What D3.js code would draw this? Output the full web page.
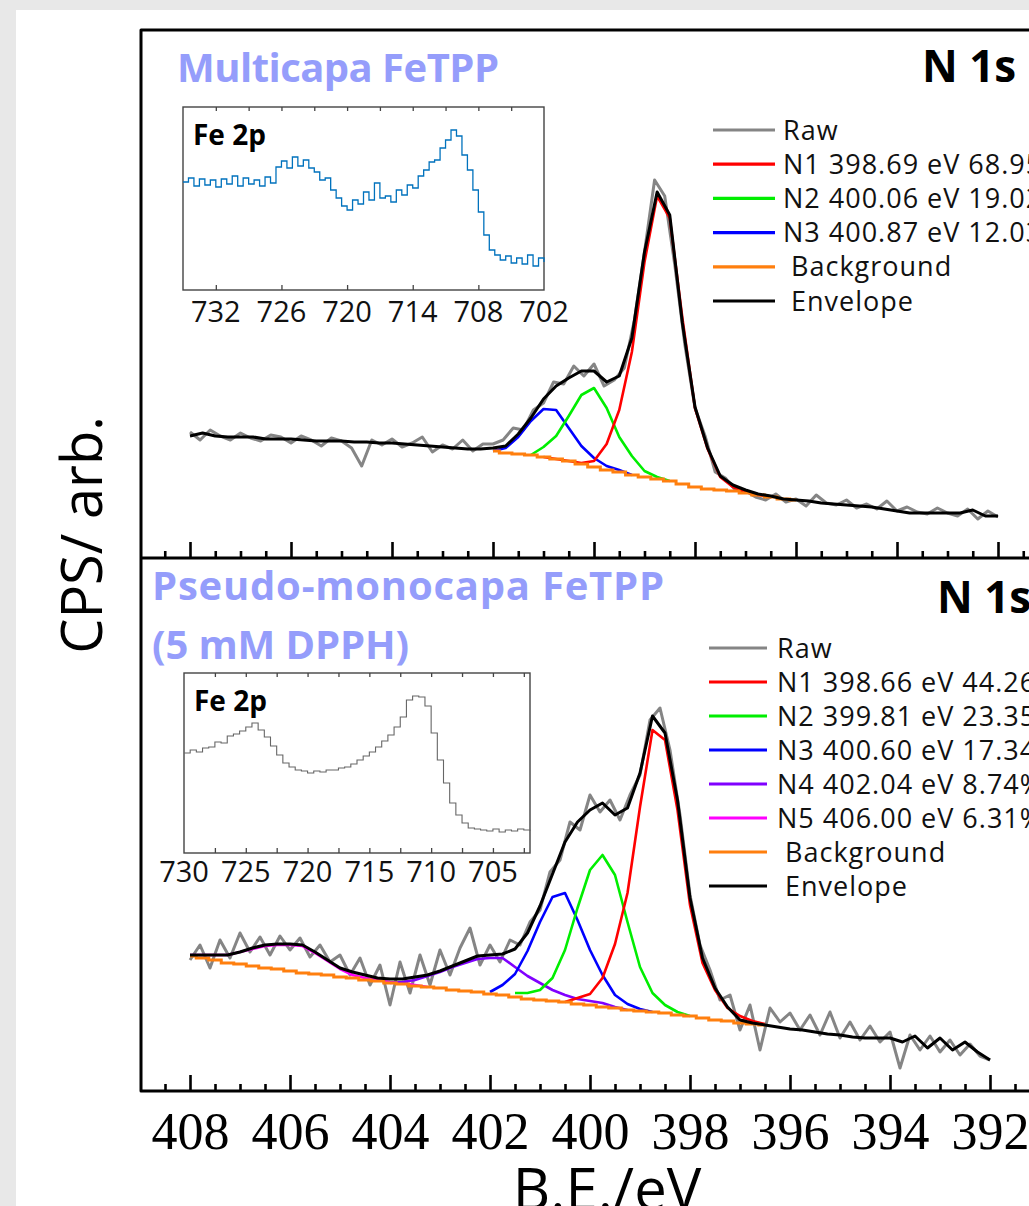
<!DOCTYPE html>
<html>
<head>
<meta charset="utf-8">
<script src="https://cdn.jsdelivr.net/npm/d3@7"></script>
<style>
  body { margin: 0; background: #e8e8e8; }
  text { font-family: "Open Sans", "Lato", sans-serif; }
</style>
</head>
<body>
<div id="visContainer"></div>
<script>
// ---------------- data (arbitrary counts) ----------------
// main panels share the B.E. axis, 408 -> 392 eV
const majorTicks = [408, 406, 404, 402, 400, 398, 396, 394, 392];

// top panel: Multicapa FeTPP
// raw: every 0.2 eV from 408
const topRaw = [
  125, 117, 127, 121, 117, 124, 119, 116, 122, 120,
  114, 121, 117, 111, 119, 116, 109, 91, 117, 112,
  118, 110, 114, 120, 105, 112, 108, 117, 106, 113,
  113, 117, 129, 127, 147, 154, 175, 173, 191, 181,
  193, 171, 177, 189, 237, 305, 377, 361, 292, 212,
  149, 121, 85, 79, 67, 66, 60, 57, 63, 55,
  58, 51, 62, 54, 52, 57, 49, 53, 48, 56,
  46, 50, 45, 43, 49, 44, 41, 48, 38, 46,
  40
];
// fitted curves: every 0.25 eV from the given start energy
const topEnvelope = [
  121, 124, 121, 120, 120, 120, 118, 118, 118, 117, 116, 116, 116, 115, 115, 114,
  114, 113, 112, 111, 110, 109, 108, 108, 109, 111,
  123, 139, 158, 171, 179, 186, 186, 175, 181, 219, 305, 365, 342, 234, 150, 109,
  81, 72, 67, 63, 61, 58, 57, 56, 54, 53, 52, 51, 50, 48, 46, 44, 44, 44, 44, 44,
  47, 41, 41
];
const topBackground = [106, 104, 103, 102, 100, 98, 96, 93, 90, 87, 85, 82, 80, 78, 76, 73, 70, 68, 67, 66, 64, 62, 60, 58, 57];
const topN1 = [100, 98, 96, 94, 96, 113, 147, 205, 295, 361, 339, 239, 149, 108, 80, 70, 65, 62, 60];
const topN2 = [102, 110, 121, 141, 162, 169, 149, 120, 101, 86, 80, 76];
const topN3 = [106, 109, 120, 136, 148, 147, 129, 111, 99, 91, 87, 82];

// bottom panel: Pseudo-monocapa FeTPP (5 mM DPPH)
const botRaw = [
  130, 145, 122, 150, 132, 157, 138, 153, 135, 154,
  140, 152, 133, 145, 128, 135, 115, 132, 105, 125,
  85, 128, 97, 135, 105, 140, 115, 142, 162, 125,
  145, 128, 150, 145, 168, 180, 218, 230, 268, 260,
  295, 278, 290, 270, 295, 315, 370, 382, 340, 275,
  195, 145, 120, 90, 95, 60, 85, 40, 82, 68,
  77, 60, 75, 55, 78, 52, 68, 50, 64, 48,
  58, 22, 55, 40, 54, 38, 50, 35, 46, 34,
  30
];
const botEnvelope = [
  135, 135, 135, 135, 138, 142, 145, 146, 146, 145, 138, 130, 122, 118, 115, 112,
  111, 111, 113, 115, 119, 124, 129, 134, 135, 136,
  141, 157, 184, 216, 248, 268, 280, 287, 275, 282, 317, 374, 357, 290, 192, 132,
  102, 83, 70, 67, 65, 63, 61, 60, 58, 56, 55, 53, 52, 52, 52, 48, 54, 42, 52, 40,
  48, 38, 30
];
const botBackground = [
  134, 132, 130, 127, 126, 124, 122, 121, 119, 117, 116, 115, 113, 112, 110, 109,
  107, 106, 104, 103, 102, 100, 99, 98, 96, 95, 93, 91, 90, 89, 88, 86,
  85, 83, 82, 80, 79, 78, 77, 75, 74, 72, 70, 69, 67, 66, 65
];
const botN1 = [88, 92, 96, 112, 146, 197, 283, 360, 350, 280, 185, 127, 100, 82, 74, 69, 66];
const botN2 = [97, 97, 100, 112, 140, 182, 220, 235, 215, 168, 123, 97, 85, 78, 74];
const botN3 = [98, 105, 116, 139, 168, 193, 197, 170, 140, 115, 95, 86, 81, 78];
const botN4 = [107, 108, 110, 114, 118, 123, 127, 131, 132, 132, 123, 114, 107, 100, 95, 91, 89, 87, 83, 80];
const botN5 = [135, 135, 135, 135, 138, 141, 144, 145, 145, 144, 137, 129, 121, 115, 112, 110, 108, 107, 105, 103];

// Fe 2p insets, every 0.5 eV
const inset1Values = [
  108, 112, 104, 111, 105, 110, 103, 111, 106, 114, 104, 112, 106, 110, 104, 113, 107,
  123, 129, 122, 133, 124, 130, 122, 118, 110, 112, 100, 92, 84, 80, 90, 86, 98, 90,
  107, 92, 94, 88, 100, 95, 105, 102, 114, 120, 128, 130, 142, 150, 160, 154, 135, 120,
  100, 78, 55, 40, 35, 30, 34, 27, 32, 26, 35, 24, 32, 28
]; // from 735 eV
const inset1Labels = [732, 726, 720, 714, 708, 702];
const inset2Values = [
  100, 103, 101, 105, 106, 111, 110, 117, 119, 122, 126, 130, 123, 116, 107, 98, 90,
  86, 83, 82, 80, 82, 81, 83, 83, 85, 86, 89, 93, 97, 101, 106, 112, 118, 126, 136,
  153, 157, 156, 147, 120, 93, 70, 50, 38, 30, 25, 24, 23, 22, 24, 21, 23, 22, 24, 23, 22
]; // from 730 eV
const inset2Labels = [730, 725, 720, 715, 710, 705];

const legendTop = [
  { label: "Raw", color: "#858585" },
  { label: "N1 398.69 eV 68.95%", color: "#ff0000" },
  { label: "N2 400.06 eV 19.02%", color: "#00ee00" },
  { label: "N3 400.87 eV 12.03%", color: "#0000ff" },
  { label: " Background", color: "#ff7f0e" },
  { label: " Envelope", color: "#000000" },
];
const legendBot = [
  { label: "Raw", color: "#858585" },
  { label: "N1 398.66 eV 44.26%", color: "#ff0000" },
  { label: "N2 399.81 eV 23.35%", color: "#00ee00" },
  { label: "N3 400.60 eV 17.34%", color: "#0000ff" },
  { label: "N4 402.04 eV 8.74%", color: "#8000ff" },
  { label: "N5 406.00 eV 6.31%", color: "#ff00ff" },
  { label: " Background", color: "#ff7f0e" },
  { label: " Envelope", color: "#000000" },
];

// ---------------- drawing ----------------
const width = 1029;
const height = 1206;
const titleColor = "#959dfb";

const svg = d3
  .select("#visContainer")
  .append("svg")
  .attr("width", width)
  .attr("height", height);

svg.append("rect").attr("width", width).attr("height", height).attr("fill", "#e8e8e8");
svg.append("rect").attr("x", 16).attr("y", 10).attr("width", width).attr("height", height).attr("fill", "#fff");

// turn a value list into [energy, value] pairs
function pts(start, step, values) {
  return values.map((v, i) => [start - i * step, v]);
}

const minorTicks = d3.range(391.5, 408.51, 0.5).filter((t) => !majorTicks.includes(t));

function drawPanel(p) {
  const x = d3.scaleLinear().domain([408, 392]).range(p.xRange);
  const y = d3.scaleLinear().domain(p.yDomain).range(p.yRange);
  const line = d3.line().x((d) => x(d[0])).y((d) => y(d[1]));
  const g = svg.append("g");

  g.append("path")
    .datum(pts(408, 0.2, p.raw))
    .attr("d", line)
    .attr("fill", "none")
    .attr("stroke", "#858585")
    .attr("stroke-width", 3)
    .attr("stroke-linejoin", "round");

  p.comps.forEach((c) => {
    g.append("path")
      .datum(pts(c.start, 0.25, c.values))
      .attr("d", line)
      .attr("fill", "none")
      .attr("stroke", c.color)
      .attr("stroke-width", 2.6)
      .attr("stroke-linejoin", "round");
  });

  g.append("path")
    .datum(pts(p.bgStart, 0.25, p.background))
    .attr("d", line.curve(d3.curveStep))
    .attr("fill", "none")
    .attr("stroke", "#ff7f0e")
    .attr("stroke-width", 3);
  line.curve(d3.curveLinear);

  g.append("path")
    .datum(pts(408, 0.25, p.envelope))
    .attr("d", line)
    .attr("fill", "none")
    .attr("stroke", "#000")
    .attr("stroke-width", 3)
    .attr("stroke-linejoin", "round");

  // ticks pointing up from the lower edge
  const tickG = g.append("g").attr("transform", `translate(0, ${p.axisY})`);
  tickG.append("g").call(d3.axisTop(x).tickValues(majorTicks).tickSize(16).tickFormat(""));
  tickG.append("g").call(d3.axisTop(x).tickValues(minorTicks).tickSize(7).tickFormat(""));
  tickG.selectAll(".domain").remove();
  tickG.selectAll("line").attr("stroke", "#000").attr("stroke-width", 2.6);

  if (p.labels) {
    const lab = g
      .append("g")
      .attr("transform", `translate(0, ${p.axisY})`)
      .call(d3.axisBottom(x).tickValues(majorTicks).tickSize(0).tickPadding(0).tickFormat(d3.format("d")));
    lab.select(".domain").remove();
    lab.selectAll("text")
      .attr("y", 58)
      .attr("dy", null)
      .attr("fill", "#000")
      .style("font-family", "'Liberation Serif', 'Times New Roman', serif")
      .style("font-size", "52px");
  }

  // legend
  const leg = g.append("g");
  p.legend.forEach((d, i) => {
    const ly = p.legendY + i * p.legendStep;
    leg.append("line")
      .attr("x1", p.legendX[0]).attr("x2", p.legendX[1])
      .attr("y1", ly).attr("y2", ly)
      .attr("stroke", d.color).attr("stroke-width", 3.2);
    leg.append("text")
      .attr("x", p.legendX[2]).attr("y", ly + 9.5)
      .style("white-space", "pre")
      .style("font-size", "27px")
      .style("letter-spacing", "1px")
      .attr("fill", "#111")
      .text(d.label);
  });
}

function drawInset(s) {
  const x = d3.scaleLinear().domain(s.domain).range([s.x0, s.x1]);
  const y = d3.scaleLinear().domain([0, s.y1 - s.y0]).range([s.y1, s.y0]);
  const g = svg.append("g");
  g.append("rect")
    .attr("x", s.x0).attr("y", s.y0)
    .attr("width", s.x1 - s.x0).attr("height", s.y1 - s.y0)
    .attr("fill", "#fff").attr("stroke", "#444").attr("stroke-width", 1.4);

  g.append("path")
    .datum(pts(s.domain[0], 0.5, s.values))
    .attr("d", d3.line().x((d) => x(d[0])).y((d) => y(d[1])).curve(d3.curveStepAfter))
    .attr("fill", "none")
    .attr("stroke", s.color)
    .attr("stroke-width", s.lineWidth);

  g.append("g").attr("transform", `translate(0, ${s.y0})`)
    .call(d3.axisBottom(x).tickValues(s.topTicks).tickSize(4).tickFormat(""));
  g.append("g").attr("transform", `translate(0, ${s.y1})`)
    .call(d3.axisTop(x).tickValues(s.botTicks).tickSize(5).tickFormat(""));
  g.selectAll(".domain").remove();
  g.selectAll(".tick line").attr("stroke", "#444").attr("stroke-width", 1.3);

  s.labels.forEach((t) => {
    g.append("text")
      .attr("x", x(t)).attr("y", s.labelY)
      .attr("text-anchor", "middle")
      .style("font-size", "29px")
      .attr("fill", "#111")
      .text(t);
  });

  g.append("text")
    .attr("x", s.x0 + 10).attr("y", s.y0 + 38)
    .style("font-size", "28px").style("font-weight", 700)
    .attr("fill", "#000")
    .text("Fe 2p");
}

drawPanel({
  xRange: [190, 998], yDomain: [0, 527], yRange: [557, 30], axisY: 558,
  raw: topRaw, envelope: topEnvelope, background: topBackground, bgStart: 402,
  comps: [
    { start: 402, values: topN3, color: "#0000ff" },
    { start: 401.25, values: topN2, color: "#00ee00" },
    { start: 401, values: topN1, color: "#ff0000" },
  ],
  labels: false,
  legend: legendTop, legendY: 130, legendStep: 34.2, legendX: [713, 775, 783],
});

drawPanel({
  xRange: [190, 990], yDomain: [0, 533], yRange: [1090, 557], axisY: 1091,
  raw: botRaw, envelope: botEnvelope, background: botBackground, bgStart: 408,
  comps: [
    { start: 408, values: botN5, color: "#ff00ff" },
    { start: 404, values: botN4, color: "#8000ff" },
    { start: 402, values: botN3, color: "#0000ff" },
    { start: 401.5, values: botN2, color: "#00ee00" },
    { start: 400.5, values: botN1, color: "#ff0000" },
  ],
  labels: true,
  legend: legendBot, legendY: 648, legendStep: 34.0, legendX: [709, 767, 777],
});

drawInset({
  x0: 183, x1: 544, y0: 107, y1: 290, domain: [735, 702], values: inset1Values,
  color: "#0072bd", lineWidth: 1.3, labels: inset1Labels, labelY: 322,
  topTicks: d3.range(705, 733, 3), botTicks: [732, 726, 720, 714, 708],
});

drawInset({
  x0: 184, x1: 530, y0: 673, y1: 853, domain: [730, 702], values: inset2Values,
  color: "#666", lineWidth: 1.1, labels: inset2Labels, labelY: 882,
  topTicks: d3.range(702.5, 730, 2.5), botTicks: d3.range(702.5, 730, 2.5),
});

// frames
svg.append("path")
  .attr("d", "M1100,30 H141 V1091 H1100 M141,558 H1100")
  .attr("fill", "none").attr("stroke", "#000").attr("stroke-width", 3)
  .attr("stroke-linejoin", "round");

// titles
function title(txt, x, y, size, color, len) {
  const t = svg.append("text").attr("x", x).attr("y", y)
    .style("font-size", size + "px").style("font-weight", 700)
    .attr("fill", color).text(txt);
  if (len) t.attr("textLength", len).attr("lengthAdjust", "spacing");
}
title("Multicapa FeTPP", 177, 82, 40, titleColor, 322);
title("Pseudo-monocapa FeTPP", 152, 600, 40, titleColor, 512);
title("(5 mM DPPH)", 152, 659, 40, titleColor, 257);
title("N 1s", 922, 82, 44, "#000");
title("N 1s", 937, 613, 44, "#000");

// axis titles
svg.append("text")
  .attr("transform", "translate(102, 535) rotate(-90)")
  .attr("text-anchor", "middle")
  .style("font-size", "56px")
  .attr("fill", "#000")
  .text("CPS/ arb.");

svg.append("text")
  .attr("x", 607).attr("y", 1210)
  .attr("text-anchor", "middle")
  .style("font-size", "58px")
  .attr("fill", "#000")
  .text("B.E./eV");
</script>
</body>
</html>
